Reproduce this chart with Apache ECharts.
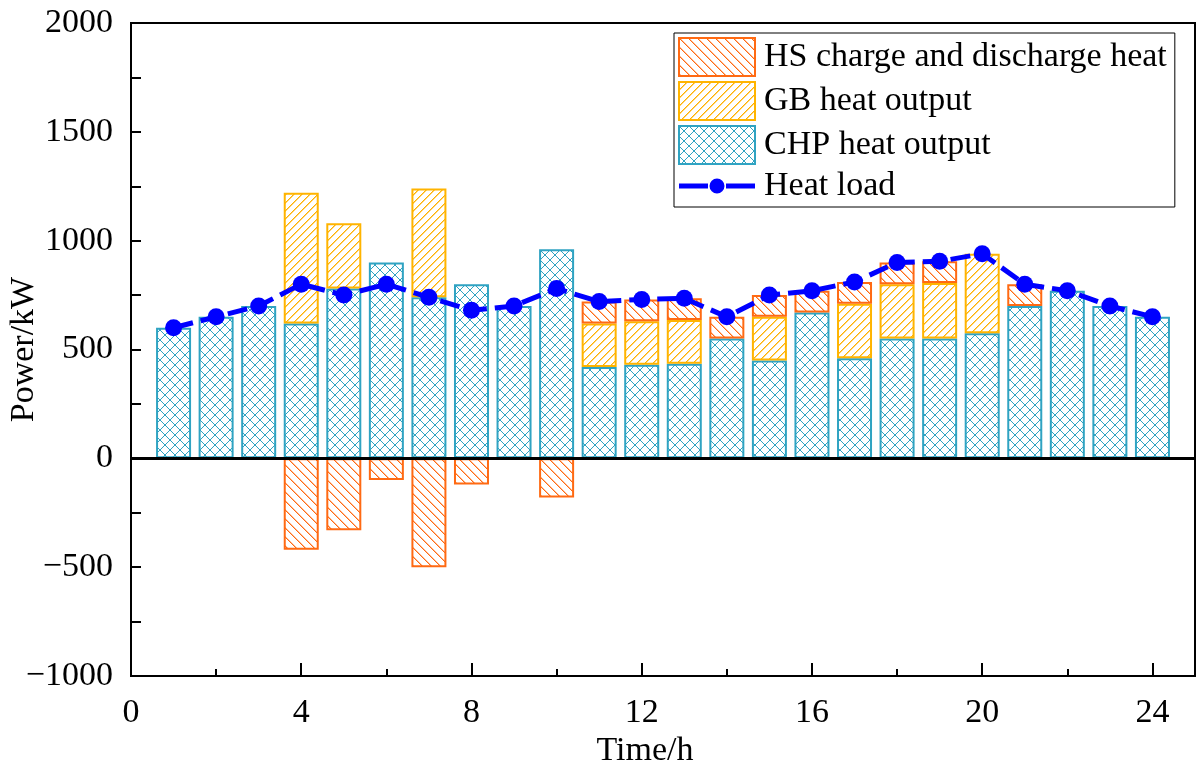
<!DOCTYPE html>
<html>
<head>
<meta charset="utf-8">
<script src="https://cdn.jsdelivr.net/npm/echarts@6/dist/echarts.min.js"></script>
<style>
  html, body { margin: 0; padding: 0; background: #fff; }
  #main { width: 1198px; height: 767px; }
</style>
</head>
<body>
<div id="main"></div>
<script>
// hours 1..24
var hours = [1, 2, 3, 4, 5, 6, 7, 8, 9, 10, 11, 12, 13, 14, 15, 16, 17, 18, 19, 20, 21, 22, 23, 24];
// CHP heat output
var chpHeat = [600, 650, 700, 620, 780, 900, 740, 800, 700, 960, 420, 430, 435, 550, 450, 670, 460, 550, 550, 575, 700, 770, 700, 650];
// GB heat output (null = none)
var gbHeat = [null, null, null, 600, 300, null, 500, null, null, null, 200, 200, 200, null, 200, null, 250, 250, 255, 365, null, null, null, null];
// HS charge (-) / discharge (+)
var hsHeat = [null, null, null, -420, -330, -100, -500, -120, null, -180, 100, 100, 100, 100, 100, 100, 100, 100, 100, null, 100, null, null, null];
// heat load
var heatLoad = [600, 650, 700, 800, 750, 800, 740, 680, 700, 780, 720, 730, 735, 650, 750, 770, 810, 900, 905, 940, 800, 770, 700, 650];

var yTicks = [-1000, -500, 0, 500, 1000, 1500, 2000];
var xTicks = [0, 4, 8, 12, 16, 20, 24];

var FONT = 'Liberation Serif';

// hatch patterns, drawn pixel by pixel; "soft" adds a faint second pixel to thicken the line
function hatch(color, size, dirs, soft) {
  var c = document.createElement('canvas');
  c.width = size; c.height = size;
  var g = c.getContext('2d');
  g.fillStyle = '#fff';
  g.fillRect(0, 0, size, size);
  g.fillStyle = color;
  dirs.forEach(function (d) {
    for (var i = 0; i < size; i++) {
      var y = d === '/' ? size - 1 - i : i;
      g.globalAlpha = 1;
      g.fillRect(i, y, 1, 1);
      if (soft) {
        g.globalAlpha = soft;
        g.fillRect((i + 1) % size, y, 1, 1);
      }
    }
  });
  g.globalAlpha = 1;
  return { image: c, repeat: 'repeat' };
}

// rows are [value, hour] so the value dimension is the one that gets stacked
function rows(arr) {
  return hours.map(function (h, i) { return [arr[i], h]; });
}

var chart = echarts.init(document.getElementById('main'));

var option = {
  animation: false,
  textStyle: { fontFamily: FONT },
  grid: {
    left: 131, right: 3, top: 23, bottom: 91,
    outerBoundsMode: 'none',
    containLabel: false,
    show: true, borderColor: '#000', borderWidth: 2, backgroundColor: 'transparent'
  },
  legend: {
    orient: 'vertical',
    left: 674, top: 33,
    padding: [4, 8, 4, 4],
    itemWidth: 76, itemHeight: 38, itemGap: 4,
    borderColor: '#000', borderWidth: 1,
    textStyle: { fontFamily: FONT, fontSize: 34, color: '#000', padding: [0, 0, 0, 4] },
    data: [
      { name: 'HS charge and discharge heat', icon: 'rect' },
      { name: 'GB heat output', icon: 'rect' },
      { name: 'CHP heat output', icon: 'rect' },
      {
        name: 'Heat load',
        icon: 'path://M0 6H29V11H0Z M47 6H76V11H47Z M30.5 8.5A7.5 7.5 0 1 0 45.5 8.5A7.5 7.5 0 1 0 30.5 8.5Z'
      }
    ]
  },
  xAxis: {
    type: 'value',
    min: 0, max: 25, interval: 4,
    name: 'Time/h',
    nameLocation: 'middle',
    nameGap: 58,
    nameMoveOverlap: false,
    nameTextStyle: { fontFamily: FONT, fontSize: 34, color: '#000', padding: [0, 36, 0, 0] },
    axisLine: { onZero: false, lineStyle: { color: '#000', width: 2 } },
    axisTick: { inside: true, length: 13, lineStyle: { color: '#000', width: 2 } },
    minorTick: { show: true, splitNumber: 2, length: 7, lineStyle: { color: '#000', width: 2 } },
    axisLabel: {
      margin: 20, fontFamily: FONT, fontSize: 34, color: '#000', showMaxLabel: false,
      formatter: function (v) { return xTicks.indexOf(v) >= 0 ? String(v) : ''; }
    },
    splitLine: { show: false }
  },
  yAxis: {
    type: 'value',
    min: -1000, max: 2000, interval: 500,
    name: 'Power/kW',
    nameLocation: 'middle',
    nameGap: 90,
    nameMoveOverlap: false,
    nameTextStyle: { fontFamily: FONT, fontSize: 34, color: '#000' },
    axisLine: { show: true, lineStyle: { color: '#000', width: 2 } },
    axisTick: { inside: true, length: 10, lineStyle: { color: '#000', width: 2 } },
    minorTick: { show: true, splitNumber: 2, length: 10, lineStyle: { color: '#000', width: 2 } },
    axisLabel: {
      margin: 18, fontFamily: FONT, fontSize: 34, color: '#000',
      formatter: function (v) {
        if (yTicks.indexOf(v) < 0) return '';
        return v < 0 ? '\u2212' + Math.abs(v) : String(v);
      }
    },
    splitLine: { show: false }
  },
  series: [
    {
      name: 'CHP heat output',
      type: 'bar',
      stack: 'heat',
      barWidth: 35,
      encode: { x: 1, y: 0 },
      data: rows(chpHeat),
      itemStyle: { color: hatch('#2fa3c2', 10, ['/', '\\']), borderColor: '#2fa3c2', borderWidth: 2 },
      markLine: {
        silent: true, symbol: 'none', label: { show: false },
        lineStyle: { color: '#000', width: 3, type: 'solid' },
        data: [{ yAxis: 0 }],
        z: 5
      }
    },
    {
      name: 'GB heat output',
      type: 'bar',
      stack: 'heat',
      barWidth: 35,
      encode: { x: 1, y: 0 },
      data: rows(gbHeat),
      itemStyle: { color: hatch('#ffb000', 8, ['/'], 0.55), borderColor: '#ffb400', borderWidth: 2 }
    },
    {
      name: 'HS charge and discharge heat',
      type: 'bar',
      stack: 'heat',
      barWidth: 35,
      encode: { x: 1, y: 0 },
      data: rows(hsHeat),
      itemStyle: { color: hatch('#ff6a13', 9, ['\\'], 0.45), borderColor: '#ff6a13', borderWidth: 2 }
    },
    {
      name: 'Heat load',
      type: 'line',
      z: 10,
      encode: { x: 1, y: 0 },
      data: rows(heatLoad),
      symbol: 'circle',
      symbolSize: 17,
      itemStyle: { color: '#0000ff' },
      lineStyle: { color: '#0000ff', width: 5, type: [20, 8] }
    }
  ]
};

chart.setOption(option);
</script>
</body>
</html>
